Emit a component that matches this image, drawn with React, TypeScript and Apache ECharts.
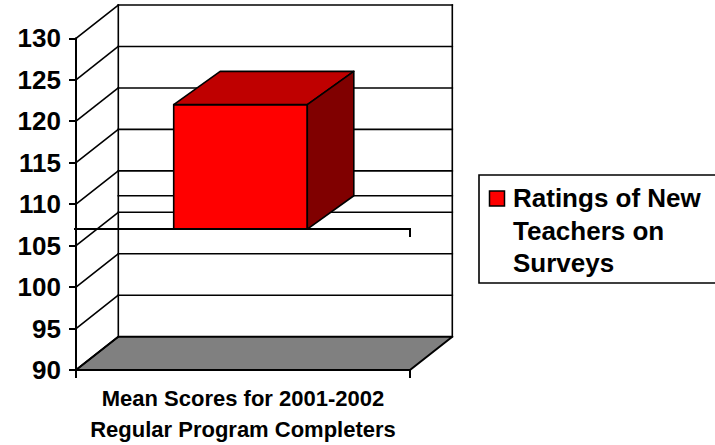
import React, { useEffect, useRef } from "react";
import * as echarts from "echarts";

// ---- data ----
const categories = ["Mean Scores for 2001-2002\nRegular Program Completers"];
const seriesName = "Ratings of New\nTeachers on\nSurveys";
const values = [122];
const axisCrossValue = 107;
const yMin = 90;
const yMax = 130;
const yInterval = 5;
const tickValues = [90, 95, 100, 105, 110, 115, 120, 125, 130];

// ---- styling ----
const FONT = "'Liberation Sans', Arial, Helvetica, sans-serif";
const WALL_DX = 42.3;
const WALL_DY = -33.3;
const BAR_DX = 46.5;
const BAR_DY = -33.3;
const LW = 1.6;

function seg(x1: number, y1: number, x2: number, y2: number, w = LW) {
  return {
    type: "line",
    shape: { x1, y1, x2, y2 },
    style: { stroke: "#000", lineWidth: w, lineCap: "square" },
  };
}

export default function App() {
  const ref = useRef<HTMLDivElement>(null);

  useEffect(() => {
    const chart = echarts.init(ref.current!, null, { renderer: "svg" });

    chart.setOption({
      animation: false,
      backgroundColor: "#fff",
      grid: { left: 76, top: 38.3, width: 334, height: 334, containLabel: false },
      xAxis: {
        type: "category",
        data: categories,
        boundaryGap: true,
        axisLine: { show: true, onZero: false, lineStyle: { color: "#000", width: 2 } },
        axisTick: { show: true, length: 8, interval: 0, lineStyle: { color: "#000", width: 2 } },
        axisLabel: {
          margin: 13,
          interval: 0,
          fontSize: 22,
          fontWeight: "bold",
          fontFamily: FONT,
          color: "#000",
          lineHeight: 31,
        },
        splitLine: { show: false },
      },
      yAxis: {
        type: "value",
        min: yMin,
        max: yMax,
        interval: yInterval,
        axisLine: { show: true, lineStyle: { color: "#000", width: 2 } },
        axisTick: { show: true, length: 7, lineStyle: { color: "#000", width: 2 } },
        axisLabel: {
          margin: 15,
          fontSize: 26,
          fontWeight: "bold",
          fontFamily: FONT,
          color: "#000",
        },
        splitLine: { show: false },
      },
      graphic: [
        {
          type: "rect",
          shape: { x: 479, y: 175, width: 250, height: 108 },
          style: { fill: "#fff", stroke: "#000", lineWidth: 1.6 },
          z: 10,
        },
        {
          type: "rect",
          shape: { x: 489.5, y: 191, width: 15, height: 15 },
          style: { fill: "#ff0000", stroke: "#000", lineWidth: 1.5 },
          z: 11,
        },
        {
          type: "text",
          x: 513,
          y: 182,
          style: {
            text: seriesName,
            fontSize: 26,
            fontWeight: "bold",
            fontFamily: FONT,
            fill: "#000",
            lineHeight: 32.5,
            verticalAlign: "top",
            align: "left",
          },
          z: 11,
        },
      ],
      series: [
        {
          type: "custom",
          name: "frame",
          z: 1,
          silent: true,
          data: [[0, yMin]],
          renderItem: (params: any, api: any) => {
            const cs = params.coordSys;
            const x0 = cs.x;
            const x1 = cs.x + cs.width;
            const yOf = (v: number) => api.coord([0, v])[1];
            const yFloor = yOf(yMin);
            const yTop = yOf(yMax);
            const children: any[] = [];
            // floor
            children.push({
              type: "polygon",
              shape: {
                points: [
                  [x0, yFloor],
                  [x1, yFloor],
                  [x1 + WALL_DX, yFloor + WALL_DY],
                  [x0 + WALL_DX, yFloor + WALL_DY],
                ],
              },
              style: { fill: "#808080", stroke: "#000", lineWidth: 2, lineJoin: "round" },
            });
            // back wall gridlines
            tickValues.forEach((v) => {
              if (v === yMin) return;
              const y = yOf(v) + WALL_DY;
              children.push(seg(x0 + WALL_DX, y, x1 + WALL_DX, y));
            });
            const yb = yOf(axisCrossValue) + WALL_DY;
            children.push(seg(x0 + WALL_DX, yb, x1 + WALL_DX, yb));
            // back wall verticals
            children.push(seg(x0 + WALL_DX, yTop + WALL_DY, x0 + WALL_DX, yFloor + WALL_DY));
            children.push(seg(x1 + WALL_DX, yTop + WALL_DY, x1 + WALL_DX, yFloor + WALL_DY));
            // side wall diagonals
            tickValues.forEach((v) => {
              const y = yOf(v);
              children.push(seg(x0, y, x0 + WALL_DX, y + WALL_DY));
            });
            return { type: "group", children };
          },
        },
        {
          type: "custom",
          name: seriesName,
          z: 3,
          data: values.map((v, i) => [i, v]),
          encode: { x: 0, y: 1 },
          renderItem: (params: any, api: any) => {
            const cat = api.value(0);
            const v = api.value(1);
            const top = api.coord([cat, v]);
            const bot = api.coord([cat, axisCrossValue]);
            const bw = api.size([1, 0])[0] * 0.4;
            const cx = top[0] - 2.5;
            const xl = cx - bw / 2;
            const xr = cx + bw / 2;
            const yT = top[1];
            const yB = bot[1];
            const st = { stroke: "#000", lineWidth: LW, lineJoin: "round" };
            return {
              type: "group",
              children: [
                {
                  type: "polygon",
                  shape: { points: [[xl, yT], [xr, yT], [xr, yB], [xl, yB]] },
                  style: { fill: "#ff0000", ...st },
                },
                {
                  type: "polygon",
                  shape: {
                    points: [
                      [xl, yT],
                      [xl + BAR_DX, yT + BAR_DY],
                      [xr + BAR_DX, yT + BAR_DY],
                      [xr, yT],
                    ],
                  },
                  style: { fill: "#bf0000", ...st },
                },
                {
                  type: "polygon",
                  shape: {
                    points: [
                      [xr, yT],
                      [xr + BAR_DX, yT + BAR_DY],
                      [xr + BAR_DX, yB + BAR_DY],
                      [xr, yB],
                    ],
                  },
                  style: { fill: "#800000", ...st },
                },
              ],
            };
          },
        },
        {
          type: "custom",
          name: "base",
          z: 4,
          silent: true,
          data: [[0, axisCrossValue]],
          renderItem: (params: any, api: any) => {
            const cs = params.coordSys;
            const x0 = cs.x;
            const x1 = cs.x + cs.width;
            const y = api.coord([0, api.value(1)])[1];
            return {
              type: "group",
              children: [seg(x0 - 1, y, x1, y, 2), seg(x1, y, x1, y + 7, 2)],
            };
          },
        },
      ],
    });

    return () => chart.dispose();
  }, []);

  return (
    <div
      ref={ref}
      style={{ position: "fixed", left: 0, top: 0, width: 715, height: 445, background: "#fff" }}
    />
  );
}
